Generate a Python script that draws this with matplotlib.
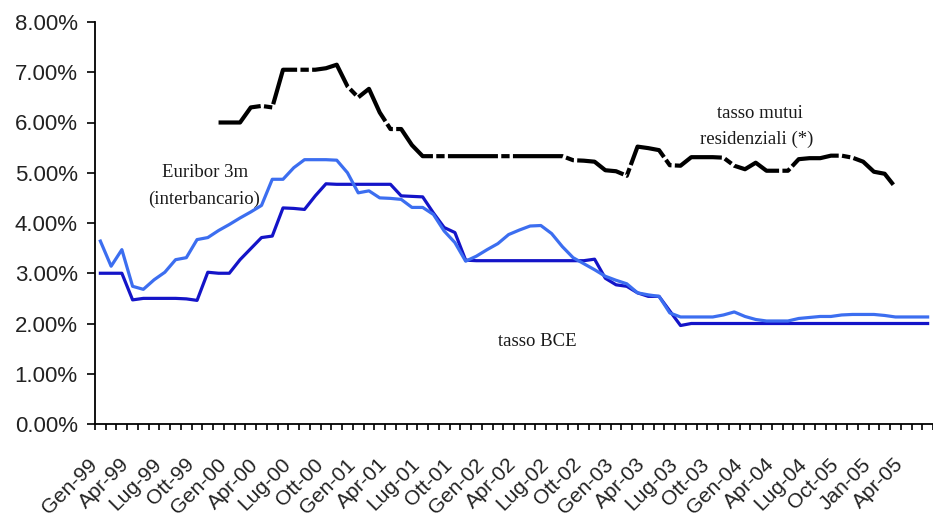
import numpy as np
import matplotlib
matplotlib.use("Agg")
import matplotlib.pyplot as plt
from matplotlib.transforms import ScaledTranslation

nan = np.nan

# Tick labels shown every 3 months (as printed on the original chart)
tick_labels = ['Gen-99', 'Apr-99', 'Lug-99', 'Ott-99', 'Gen-00', 'Apr-00', 'Lug-00', 'Ott-00',
               'Gen-01', 'Apr-01', 'Lug-01', 'Ott-01', 'Gen-02', 'Apr-02', 'Lug-02', 'Ott-02',
               'Gen-03', 'Apr-03', 'Lug-03', 'Ott-03', 'Gen-04', 'Apr-04', 'Lug-04', 'Oct-05',
               'Jan-05', 'Apr-05']

# Monthly series, Jan 1999 .. Jun 2005 (78 months), values in %
tasso_bce = [3.00, 3.00, 3.00, 2.47, 2.50, 2.50, 2.50, 2.50, 2.49, 2.46,
             3.02, 3.00, 3.00, 3.27, 3.49, 3.71, 3.74, 4.30, 4.29, 4.27,
             4.54, 4.78, 4.77, 4.77, 4.77, 4.77, 4.77, 4.77, 4.54, 4.53,
             4.52, 4.20, 3.91, 3.81, 3.26, 3.25, 3.25, 3.25, 3.25, 3.25,
             3.25, 3.25, 3.25, 3.25, 3.25, 3.25, 3.28, 2.90, 2.77, 2.74,
             2.61, 2.54, 2.54, 2.25, 1.96, 2.00, 2.00, 2.00, 2.00, 2.00,
             2.00, 2.00, 2.00, 2.00, 2.00, 2.00, 2.00, 2.00, 2.00, 2.00,
             2.00, 2.00, 2.00, 2.00, 2.00, 2.00, 2.00, 2.00]

euribor_3m = [3.64, 3.14, 3.47, 2.74, 2.68, 2.87, 3.02, 3.27, 3.31, 3.67,
              3.71, 3.85, 3.97, 4.10, 4.22, 4.35, 4.87, 4.87, 5.10, 5.26,
              5.26, 5.26, 5.25, 5.00, 4.60, 4.64, 4.50, 4.49, 4.47, 4.31,
              4.31, 4.17, 3.84, 3.61, 3.24, 3.34, 3.47, 3.59, 3.77, 3.86,
              3.94, 3.95, 3.79, 3.53, 3.31, 3.19, 3.07, 2.94, 2.86, 2.79,
              2.61, 2.57, 2.54, 2.21, 2.13, 2.13, 2.13, 2.13, 2.17, 2.23,
              2.14, 2.08, 2.05, 2.05, 2.05, 2.10, 2.12, 2.14, 2.14, 2.17,
              2.18, 2.18, 2.18, 2.16, 2.13, 2.13, 2.13, 2.13]

tasso_mutui = [nan, nan, nan, nan, nan, nan, nan, nan, nan, nan,
               nan, 6.00, 6.00, 6.00, 6.30, 6.33, 6.30, 7.05, 7.05, 7.05,
               7.05, 7.08, 7.15, 6.72, 6.50, 6.67, 6.20, 5.87, 5.87, 5.55,
               5.33, 5.33, 5.33, 5.33, 5.33, 5.33, 5.33, 5.33, 5.33, 5.33,
               5.33, 5.33, 5.33, 5.33, 5.25, 5.24, 5.22, 5.05, 5.03, 4.94,
               5.52, 5.49, 5.45, 5.15, 5.14, 5.31, 5.31, 5.31, 5.30, 5.14,
               5.07, 5.20, 5.04, 5.04, 5.04, 5.27, 5.29, 5.29, 5.34, 5.34,
               5.30, 5.22, 5.02, 4.98, 4.71, nan, nan, nan]

n = len(tasso_bce)
x = np.arange(n)

W, H = 933, 519
fig = plt.figure(figsize=(W / 100, H / 100), dpi=100)
ax = fig.add_axes([95 / W, 1 - 424 / H, (W - 95) / W, (424 - 22) / H])

ax.plot(x, tasso_bce, color='#1414C8', lw=2.3, solid_joinstyle='round', zorder=3)
ax.plot(x, euribor_3m, color='#3C6EF0', lw=2.3, solid_joinstyle='round', zorder=4)
ax.plot(x, tasso_mutui, color='black', lw=3.0, dashes=(12, 0.8, 2, 0.8), zorder=5)

ax.set_xlim(-0.5, n - 0.5)
ax.set_ylim(0, 8)

# y axis
ax.set_yticks(np.arange(0, 9, 1))
ax.set_yticklabels([f'{v:.2f}%' for v in np.arange(0, 9, 1)])
ax.tick_params(axis='y', direction='out', length=5.5, width=1.2, pad=7,
               labelsize=16, labelcolor='#222222')

# x axis: tick marks at month boundaries, labels centred on months every 3
ax.set_xticks(np.arange(-0.5, n, 1))
ax.set_xticklabels([])
ax.tick_params(axis='x', which='major', direction='out', length=4.3, width=1.2)
ax.set_xticks(np.arange(0, 3 * len(tick_labels), 3), minor=True)
ax.set_xticklabels(tick_labels, minor=True)
ax.tick_params(axis='x', which='minor', length=0, pad=27, labelsize=15,
               labelcolor='#222222')
off = ScaledTranslation(-6 / 100, 0, fig.dpi_scale_trans)
for lab in ax.get_xticklabels(minor=True):
    lab.set_rotation(45)
    lab.set_ha('right')
    lab.set_va('center')
    lab.set_rotation_mode('anchor')
    lab.set_transform(lab.get_transform() + off)

for lab in ax.get_xticklabels(minor=True) + ax.get_yticklabels():
    lab.set_fontfamily(['Liberation Sans', 'DejaVu Sans'])

for s in ['top', 'right']:
    ax.spines[s].set_visible(False)
for s in ['left', 'bottom']:
    ax.spines[s].set_linewidth(1.3)
    ax.spines[s].set_color('black')

serif = ['Liberation Serif', 'DejaVu Serif']
tkw = dict(family=serif, fontsize=13.5, color='#1a1a1a', ha='center', va='center')
ax.text(9.7, 5.01, 'Euribor 3m', **tkw)
ax.text(9.65, 4.47, '(interbancario)', **tkw)
ax.text(61.4, 6.17, 'tasso mutui', **tkw)
ax.text(61.1, 5.67, 'residenziali (*)', **tkw)
ax.text(40.7, 1.64, 'tasso BCE', **tkw)

fig.savefig('out.png', dpi=100)
